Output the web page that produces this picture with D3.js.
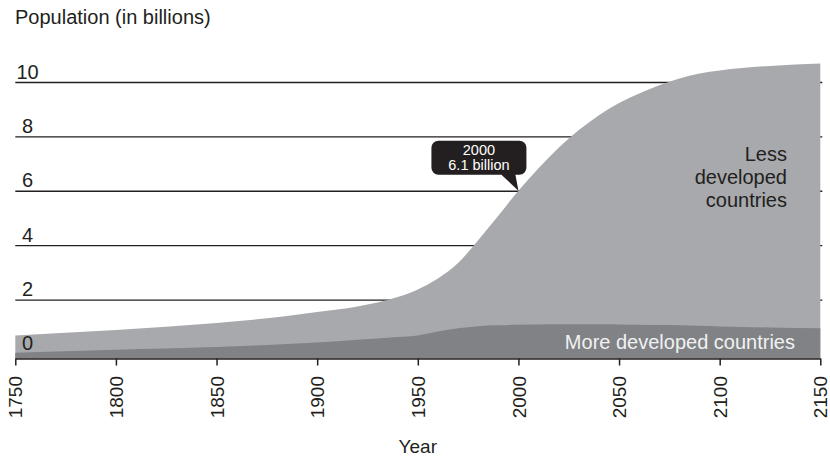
<!DOCTYPE html>
<html lang="en">
<head>
<meta charset="UTF-8">
<title>Population (in billions)</title>
<script src="https://cdnjs.cloudflare.com/ajax/libs/d3/7.8.5/d3.min.js"></script>
<style>
  body { margin: 0; background: #fff; }
  svg text { font-family: "Liberation Sans", Arial, Helvetica, sans-serif; fill: #231f20; }
</style>
</head>
<body>
<svg id="chart" width="830" height="459"></svg>
<script>
// values (billions)
const years = [1750, 1800, 1850, 1870, 1900, 1920, 1940, 1950, 1960, 1970, 1980, 1990, 2000,
               2010, 2020, 2030, 2040, 2050, 2060, 2070, 2080, 2090, 2100, 2125, 2150];
const moreDeveloped = [0.06, 0.17, 0.27, 0.33, 0.44, 0.54, 0.64, 0.70, 0.84, 0.96, 1.04, 1.07, 1.09,
                       1.10, 1.11, 1.11, 1.11, 1.10, 1.09, 1.08, 1.07, 1.05, 1.03, 0.99, 0.96];
const lessDeveloped = [0.64, 0.73, 0.89, 0.96, 1.12, 1.22, 1.47, 1.69, 1.95, 2.40, 3.16, 4.03, 4.93,
                       5.75, 6.49, 7.14, 7.69, 8.15, 8.51, 8.82, 9.08, 9.28, 9.41, 9.62, 9.74];
const gridValues = [0, 2, 4, 6, 8, 10];
const tickYears = [1750, 1800, 1850, 1900, 1950, 2000, 2050, 2100, 2150];
const calloutYear = 2000;
const calloutLines = ["2000", "6.1 billion"];

const rows = years.map((yr, i) => ({year: yr, more: moreDeveloped[i], less: lessDeveloped[i]}));

const svg = d3.select("#chart");
const dark = "#231f20";

const x = d3.scaleLinear().domain([1750, 2150]).range([15.3, 820.3]);
// axis sits a little below the zero line
const y = d3.scaleLinear().domain([-0.15, 10]).range([358.5, 82.5]);

// gridlines behind the areas
svg.append("g").selectAll("line")
  .data(gridValues.filter(d => d > 0))
  .join("line")
  .attr("x1", x(1750)).attr("x2", x(2150) + 2)
  .attr("y1", d => y(d)).attr("y2", d => y(d))
  .attr("stroke", dark).attr("stroke-width", 1.3);

const stack = d3.stack().keys(["more", "less"]);
const layers = stack(rows);
const fills = {more: "#808285", less: "#a7a9ac"};

const area = d3.area()
  .x(d => x(d.data.year))
  .y0(y(-0.15))
  .y1(d => y(d[1]))
  .curve(d3.curveMonotoneX);

// both bands drawn from the axis up so no seam shows
svg.append("path").datum(layers[1]).attr("fill", fills.less).attr("d", area);
svg.append("path").datum(layers[0]).attr("fill", fills.more).attr("d", area);

// gridline labels
svg.append("g").selectAll("text")
  .data(gridValues)
  .join("text")
  .attr("x", 27.5)
  .attr("y", d => y(d) - 4)
  .attr("text-anchor", "middle")
  .style("font-size", "20px")
  .text(d => d);

// x axis
const xAxis = svg.append("g")
  .attr("transform", `translate(0,${y(-0.15)})`)
  .call(d3.axisBottom(x).tickValues(tickYears).tickFormat(d3.format("d")).tickSize(7).tickSizeOuter(0));
xAxis.select(".domain").attr("stroke", dark).attr("stroke-width", 1.5);
xAxis.selectAll(".tick line").attr("stroke", dark).attr("stroke-width", 1.5);
xAxis.selectAll(".tick text")
  .attr("y", 0).attr("x", -17.5).attr("dy", "0.35em")
  .attr("transform", "rotate(-90)")
  .attr("text-anchor", "end")
  .style("font-family", "'Liberation Sans', Arial, sans-serif")
  .style("font-size", "19px")
  .attr("fill", dark);

// titles
svg.append("text").attr("x", 15).attr("y", 24).style("font-size", "20px").text("Population (in billions)");
svg.append("text").attr("x", (x(1750) + x(2150)) / 2).attr("y", 453)
  .attr("text-anchor", "middle").style("font-size", "19px").text("Year");

// area labels
svg.append("text").attr("x", 795).attr("y", 349)
  .attr("text-anchor", "end").style("font-size", "20px").style("fill", "#f1f1f2")
  .text("More developed countries");

const lessLabel = svg.append("text").attr("text-anchor", "end").style("font-size", "20px");
["Less", "developed", "countries"].forEach((t, i) => {
  lessLabel.append("tspan").attr("x", 787).attr("y", 161 + i * 23).text(t);
});

// callout at 2000
const ci = years.indexOf(calloutYear);
const tx = x(calloutYear), ty = y(moreDeveloped[ci] + lessDeveloped[ci]);
const L = -87, R = 8, T = -50, B = -16, r = 7;
const bubble = d3.path();
bubble.moveTo(L + r, T);
bubble.lineTo(R - r, T);
bubble.arcTo(R, T, R, T + r, r);
bubble.lineTo(R, B - r);
bubble.arcTo(R, B, R - r, B, r);
bubble.lineTo(-3, B);
bubble.lineTo(0, 0);
bubble.lineTo(-17, B);
bubble.lineTo(L + r, B);
bubble.arcTo(L, B, L, B - r, r);
bubble.lineTo(L, T + r);
bubble.arcTo(L, T, L + r, T, r);
bubble.closePath();

const co = svg.append("g").attr("transform", `translate(${tx},${ty})`);
co.append("path").attr("d", bubble.toString()).attr("fill", dark);
calloutLines.forEach((t, i) => {
  co.append("text").attr("x", (L + R) / 2).attr("y", -36 + i * 15)
    .attr("text-anchor", "middle").style("font-size", "14.5px").style("fill", "#fff").text(t);
});
</script>
</body>
</html>
